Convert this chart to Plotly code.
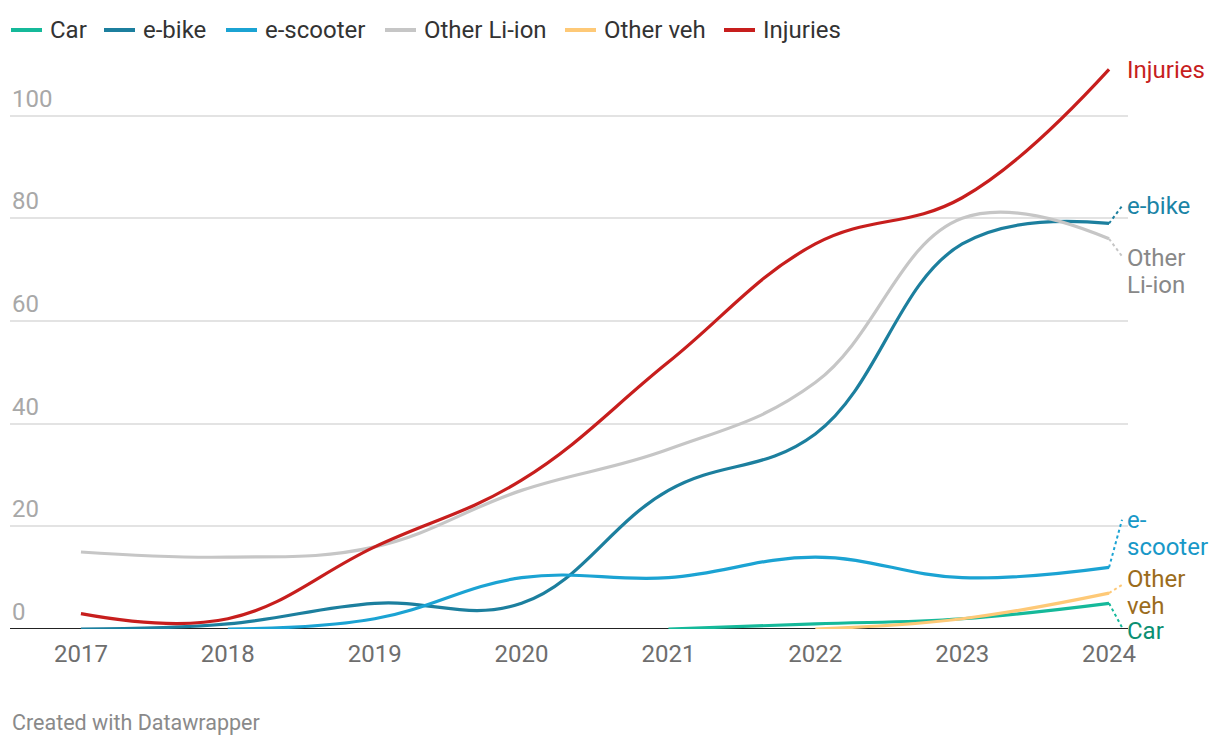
import plotly.graph_objects as go

years = [2017, 2018, 2019, 2020, 2021, 2022, 2023, 2024]
car = [None, None, None, None, 0, 1, 2, 5]
ebike = [0, 1, 5, 5, 27, 38, 75, 79]
escooter = [None, 0, 2, 10, 10, 14, 10, 12]
other_liion = [15, 14, 16, 27, 35, 48, 80, 76]
other_veh = [None, None, None, None, None, 0, 2, 7]
injuries = [3, 2, 16, 29, 52, 75, 84, 109]

y_ticks = [0, 20, 40, 60, 80, 100]

# name, values, line colour, label colour, label lines, label centre (data units), connector end
series = [
    ("Car", car, "#15b99a", "#0b8f72", ["Car"], 0, 0.3),
    ("e-bike", ebike, "#1c7f9e", "#1a84a6", ["e-bike"], 82.4, 82.4),
    ("e-scooter", escooter, "#1ba3d3", "#1898c8", ["e-", "scooter"], 18.6, 21.3),
    ("Other Li-ion", other_liion, "#c6c6c6", "#888888", ["Other", "Li-ion"], 69.7, 72.6),
    ("Other veh", other_veh, "#fec977", "#9b6c1c", ["Other", "veh"], 7.1, 8.6),
    ("Injuries", injuries, "#c71e1d", "#c71e1d", ["Injuries"], 108.8, None),
]
label_shift = {"Car": -2}

FONT = "Roboto"
FS = 24
L, R, T, B = 10, 92, 54, 117
W, H = 1220, 746
PW, PH = W - L - R, H - T - B

fig = go.Figure()
annotations = []
shapes = []

for name, vals, col, lcol, lines, ly, cy in series:
    xs = [x for x, v in zip(years, vals) if v is not None]
    ys = [v for v in vals if v is not None]
    fig.add_trace(go.Scatter(
        x=xs, y=ys, name=name, mode="lines", showlegend=False,
        line=dict(color=col, width=3.2, shape="spline", smoothing=1.15),
        hoverinfo="skip", cliponaxis=False,
    ))
    n = len(lines)
    for i, txt in enumerate(lines):
        annotations.append(dict(
            x=years[-1], y=ly, xref="x", yref="y", text=txt, showarrow=False,
            xanchor="left", yanchor="middle", xshift=16,
            yshift=(n - 1) * 13.5 - i * 27 + label_shift.get(name, 0),
            font=dict(family=FONT, size=FS, color=lcol),
        ))
    if cy is not None:
        shapes.append(dict(
            type="line", xref="x", yref="y",
            x0=years[-1], y0=ys[-1], x1=years[-1] + 13 / 146.9, y1=cy,
            line=dict(color=col, width=2, dash="dot"),
        ))

# manual legend across the top
legend_x = [11, 104, 226, 385, 565, 724]
legend_y = (H - B - 30) / PH
for (name, vals, col, *_), px in zip(series, legend_x):
    x0 = (px - L) / PW
    x1 = (px + 31 - L) / PW
    shapes.append(dict(type="line", xref="paper", yref="paper", x0=x0, x1=x1,
                       y0=legend_y, y1=legend_y, line=dict(color=col, width=4)))
    annotations.append(dict(
        x=(px + 37 - L) / PW, y=legend_y, xref="paper", yref="paper", text=name,
        showarrow=False, xanchor="left", yanchor="middle",
        font=dict(family=FONT, size=FS, color="#333333"),
    ))

for t in y_ticks:
    annotations.append(dict(
        x=0, y=t, xref="paper", yref="y", text=str(t), showarrow=False,
        xanchor="left", yanchor="bottom", yshift=1,
        font=dict(family=FONT, size=FS, color="#a8a8a8"),
    ))

annotations.append(dict(
    x=0, y=0, xref="paper", yref="paper", text="Created with Datawrapper",
    showarrow=False, xanchor="left", yanchor="middle", yshift=-93,
    font=dict(family=FONT, size=21.5, color="#8a8a8a"),
))

fig.update_layout(
    width=W, height=H,
    margin=dict(l=L, r=R, t=T, b=B),
    paper_bgcolor="white", plot_bgcolor="white",
    font=dict(family=FONT, size=FS, color="#333333"),
    showlegend=False,
    xaxis=dict(
        range=[2016.517, 2024.129], tickvals=years, ticktext=[str(y) for y in years],
        showgrid=False, zeroline=False, showline=False, ticks="",
        ticklabelstandoff=8,
        tickfont=dict(family=FONT, size=FS, color="#6e6e6e"),
        fixedrange=True,
    ),
    yaxis=dict(
        range=[0, 112], tickvals=y_ticks, showticklabels=False,
        showgrid=True, gridcolor="#e3e3e3", gridwidth=1.5,
        zeroline=False, showline=False, ticks="", fixedrange=True,
    ),
    annotations=annotations,
    shapes=shapes + [dict(type="line", xref="paper", yref="y", x0=0, x1=1, y0=0, y1=0,
                          line=dict(color="#222222", width=2), layer="below")],
)

fig.write_html("out.html")
